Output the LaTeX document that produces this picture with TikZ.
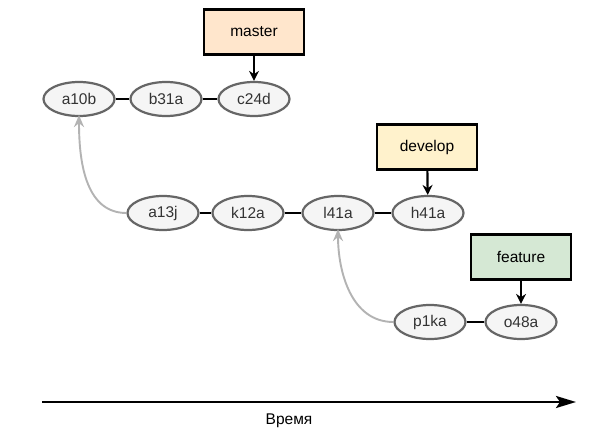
\documentclass[tikz,border=0pt]{standalone}
\usepackage{fontspec}
\setmainfont{Liberation Sans}
\usetikzlibrary{arrows.meta,shapes.geometric}
\definecolor{commitfill}{HTML}{F5F5F5}
\definecolor{commitline}{HTML}{666666}
\definecolor{committext}{HTML}{333333}
\definecolor{masterfill}{HTML}{FFE6CC}
\definecolor{developfill}{HTML}{FFF2CC}
\definecolor{featurefill}{HTML}{D5E8D4}
\definecolor{mergeline}{HTML}{B3B3B3}
\tikzset{
  label font/.style={font=\fontsize{15.5}{18}\selectfont},
  commit/.style={ellipse, draw=commitline, fill=commitfill, line width=2.2pt,
    minimum width=71pt, minimum height=34pt, inner sep=0pt,
    text=committext, label font},
  branch/.style={rectangle, draw=black, line width=2.6pt,
    minimum width=100pt, minimum height=45pt, inner sep=0pt, label font},
  link/.style={draw=black, line width=2.3pt},
  pointer/.style={draw=black, line width=2.2pt, -{Stealth[length=10pt,width=10pt]}},
  parent/.style={draw=mergeline, line width=1.9pt, -{Stealth[open,length=12pt,width=10pt,inset=4pt]}},
}
\begin{document}
\begin{tikzpicture}[x=1pt,y=-1pt]
\useasboundingbox[fill=white] (0,0) rectangle (602,447);

% commits on the master line
\node[commit] (a10b) at (79,99) {a10b};
\node[commit] (b31a) at (166,99) {b31a};
\node[commit] (c24d) at (254,99) {c24d};

% commits on the develop line
\node[commit] (a13j) at (163,213) {a13j};
\node[commit] (k12a) at (248,213) {k12a};
\node[commit] (l41a) at (338,213) {l41a};
\node[commit] (h41a) at (428,213) {h41a};

% commits on the feature line
\node[commit] (p1ka) at (430,322) {p1ka};
\node[commit] (o48a) at (521,322) {o48a};

% branch labels
\node[branch, fill=masterfill] (master) at (254,32) {master};
\node[branch, fill=developfill] (develop) at (427,147) {develop};
\node[branch, fill=featurefill] (feature) at (521,257) {feature};

% history links
\draw[link] (a10b) -- (b31a);
\draw[link] (b31a) -- (c24d);
\draw[link] (a13j) -- (k12a);
\draw[link] (k12a) -- (l41a);
\draw[link] (l41a) -- (h41a);
\draw[link] (p1ka) -- (o48a);

% branch heads
\draw[pointer] (master) -- (c24d);
\draw[pointer] (develop) -- (h41a);
\draw[pointer] (feature) -- (o48a);

% forks from parent commits
\draw[parent] (a13j.west) to[out=180,in=-90] ([yshift=2pt]a10b.south);
\draw[parent] (p1ka.west) to[out=180,in=-90] ([yshift=2pt]l41a.south);

% time axis
\coordinate (tstart) at (42,402);
\coordinate (tend) at (576,402);
\draw[line width=2.5pt, -{Stealth[length=20pt,width=12pt,inset=4pt]}] (tstart) -- (tend);
\node[label font] (time) at (289,421) {Время};
\end{tikzpicture}
\end{document}
